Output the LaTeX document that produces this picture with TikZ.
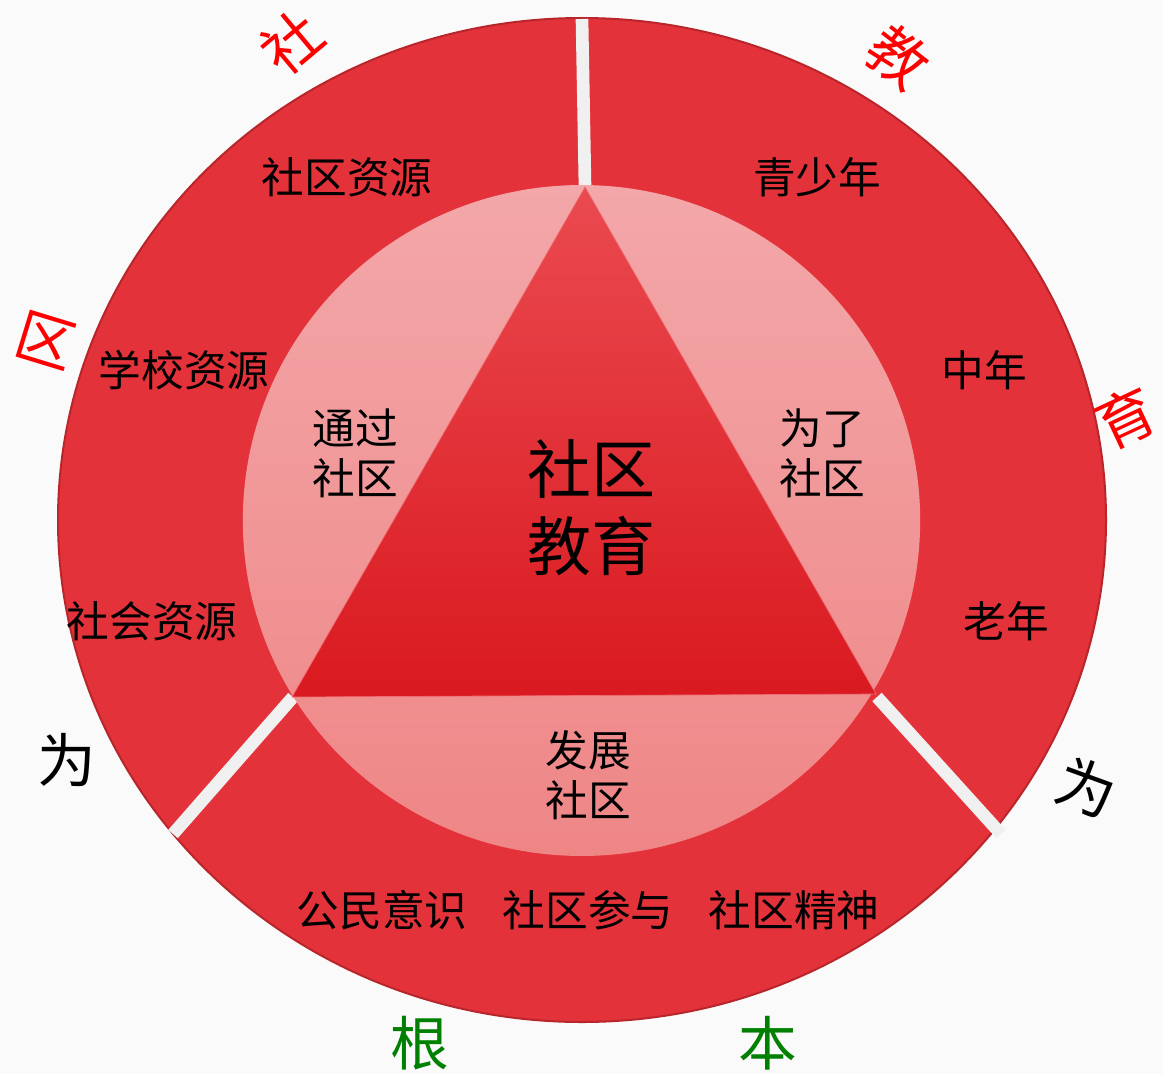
\documentclass[tikz,border=0pt]{standalone}
\usepackage{fontspec}
\setmainfont{Noto Sans CJK SC}
\definecolor{bg}{HTML}{FAFAFA}
\definecolor{ring}{HTML}{E4323A}
\definecolor{ringedge}{HTML}{B8262C}
\definecolor{sep}{HTML}{F0F0F0}
\definecolor{innertop}{HTML}{F3A7A9}
\definecolor{innerbot}{HTML}{EF8686}
\definecolor{tritop}{HTML}{EA4A50}
\definecolor{tribot}{HTML}{DA1920}
\definecolor{lblred}{HTML}{FF0000}
\definecolor{lblgreen}{HTML}{008000}
\begin{document}
\begin{tikzpicture}[x=0.75pt,y=-0.75pt,
  txt/.style={font=\fontsize{32}{37.5}\selectfont, text=black, inner sep=0pt, align=center},
  big/.style={font=\fontsize{48}{58}\selectfont, text=black, inner sep=0pt, align=center},
  outer/.style={font=\fontsize{44}{50}\selectfont, inner sep=0pt},
  sepline/.style={draw=sep, line width=9.5pt, line cap=butt}]
\useasboundingbox (0,0) rectangle (1163,1074);
\fill[bg] (0,0) rectangle (1163,1074);
% outer ring
\fill[ring, draw=ringedge, line width=1.5pt] (582,520) ellipse [x radius=393pt, y radius=376.5pt];
% separators
\coordinate (s1a) at (582,19);
\coordinate (s1b) at (585,187);
\coordinate (s2a) at (293,697);
\coordinate (s2b) at (173,834);
\coordinate (s3a) at (877,697);
\coordinate (s3b) at (1001,834);
\draw[sepline] (s1a) -- (s1b);
\draw[sepline] (s2a) -- (s2b);
\draw[sepline] (s3a) -- (s3b);
% inner circle
\shade[top color=innertop, bottom color=innerbot] (581.5,520.5) ellipse [x radius=254pt, y radius=251.6pt];
% triangle
\coordinate (ta) at (585,187);
\coordinate (tb) at (292,697);
\coordinate (tc) at (876,694);
\shade[top color=tritop, bottom color=tribot, draw=tritop!80!white, line width=0.5pt] (ta) -- (tb) -- (tc) -- cycle;
% ring texts
\node[txt] (r1) at (347,177) {社区资源};
\node[txt] (r2) at (184,370) {学校资源};
\node[txt] (r3) at (152,621) {社会资源};
\node[txt] (r4) at (817,177) {青少年};
\node[txt] (r5) at (984,370) {中年};
\node[txt] (r6) at (1006,621) {老年};
\node[txt] (r7) at (382,910) {公民意识};
\node[txt] (r8) at (588,910) {社区参与};
\node[txt] (r9) at (794,910) {社区精神};
% inner texts
\node[txt] (i1) at (355,453) {通过\\社区};
\node[txt] (i2) at (822,453) {为了\\社区};
\node[txt] (i3) at (588,775) {发展\\社区};
\node[big] (c) at (591,508) {社区\\教育};
% outer labels
\node[outer, text=lblred, rotate=40] (o1) at (292,42) {社};
\node[outer, text=lblred, rotate=-17] (o2) at (46,340) {区};
\node[outer, text=lblred, rotate=-38] (o3) at (898,57) {教};
\node[outer, text=lblred, rotate=25] (o4) at (1126,418) {育};
\node[outer, text=black] (o5) at (67,760) {为};
\node[outer, text=black, rotate=-20] (o6) at (1087,787) {为};
\node[outer, text=lblgreen] (o7) at (420,1043) {根};
\node[outer, text=lblgreen] (o8) at (768,1043) {本};
\end{tikzpicture}
\end{document}
